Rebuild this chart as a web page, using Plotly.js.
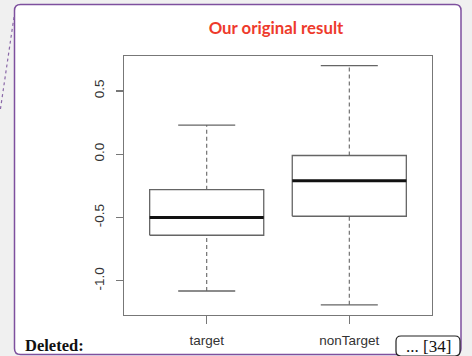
<!DOCTYPE html>
<html>
<head>
<meta charset="utf-8">
<script src="https://cdn.plot.ly/plotly-3.0.1.min.js"></script>
<style>
html,body{margin:0;padding:0;background:#f0f0f0;}
#chart{width:472px;height:356px;}
</style>
</head>
<body>
<div id="chart"></div>
<script>
// Data
const categories = ["target", "nonTarget"];
const upperWhisker = [0.23, 0.70];
const q3Values = [-0.28, -0.01];
const medians = [-0.50, -0.21];
const q1Values = [-0.64, -0.49];
const lowerWhisker = [-1.08, -1.19];

// Layout geometry (pixels)
const W = 472, H = 356;
const L = 124, R = 432, T = 56, B = 315;
const px = x => (x - L) / (R - L);
const py = y => (B - y) / (B - T);

const boxHalf = 0.4, capHalf = 0.2;
const boxColor = "#656565";
const traces = [];
categories.forEach((c, i) => {
  const xc = i + 1;
  // whiskers (dashed)
  traces.push({type:"scatter", mode:"lines", x:[xc, xc], y:[q3Values[i], upperWhisker[i]],
    line:{color:boxColor, width:1.1, dash:"4px,3px"}, hoverinfo:"skip", showlegend:false});
  traces.push({type:"scatter", mode:"lines", x:[xc, xc], y:[lowerWhisker[i], q1Values[i]],
    line:{color:boxColor, width:1.1, dash:"4px,3px"}, hoverinfo:"skip", showlegend:false});
  // caps
  traces.push({type:"scatter", mode:"lines", x:[xc-capHalf, xc+capHalf], y:[upperWhisker[i], upperWhisker[i]],
    line:{color:boxColor, width:1.4}, hoverinfo:"skip", showlegend:false});
  traces.push({type:"scatter", mode:"lines", x:[xc-capHalf, xc+capHalf], y:[lowerWhisker[i], lowerWhisker[i]],
    line:{color:boxColor, width:1.4}, hoverinfo:"skip", showlegend:false});
  // box
  traces.push({type:"scatter", mode:"lines",
    x:[xc-boxHalf, xc+boxHalf, xc+boxHalf, xc-boxHalf, xc-boxHalf],
    y:[q1Values[i], q1Values[i], q3Values[i], q3Values[i], q1Values[i]],
    line:{color:boxColor, width:1.3}, fill:"toself", fillcolor:"#ffffff", hoverinfo:"skip", showlegend:false});
  // median
  traces.push({type:"scatter", mode:"lines", x:[xc-boxHalf, xc+boxHalf], y:[medians[i], medians[i]],
    line:{color:"#111111", width:3}, hoverinfo:"skip", showlegend:false});
});

// rounded rect path in paper coords
function roundRect(x0, y0, x1, y1, r) {
  const rx = r/(R-L), ry = r/(B-T);
  const X0 = px(x0), X1 = px(x1), Y0 = py(y0), Y1 = py(y1); // Y0 top, Y1 bottom
  return `M ${X0+rx},${Y0} L ${X1-rx},${Y0} Q ${X1},${Y0} ${X1},${Y0-ry} ` +
         `L ${X1},${Y1+ry} Q ${X1},${Y1} ${X1-rx},${Y1} L ${X0+rx},${Y1} ` +
         `Q ${X0},${Y1} ${X0},${Y1+ry} L ${X0},${Y0-ry} Q ${X0},${Y0} ${X0+rx},${Y0} Z`;
}

const layout = {
  width: W, height: H,
  margin: {l: L, r: W - R, t: T, b: H - B},
  paper_bgcolor: "#f0f0f0",
  plot_bgcolor: "rgba(0,0,0,0)",
  font: {family: "Liberation Sans, Arial, sans-serif", size: 13.5, color: "#333333"},
  title: {
    text: "<b>Our original result</b>",
    font: {family: "Lato, Open Sans, sans-serif", size: 16.8, color: "#ee3a2c"},
    x: 276 / W, xref: "container", xanchor: "center",
    y: 1 - 28 / H, yref: "container", yanchor: "middle"
  },
  xaxis: {
    range: [0.42, 2.58], tickmode: "array", tickvals: [1, 2], ticktext: categories,
    showgrid: false, zeroline: false, showline: true, mirror: true,
    linecolor: "#777777", linewidth: 1.2, ticks: "outside", ticklen: 8, tickcolor: "#777777",
    tickwidth: 1.2, ticklabelstandoff: 5, fixedrange: true
  },
  yaxis: {
    range: [-1.27, 0.776], tickvals: [-1.0, -0.5, 0.0, 0.5], ticktext: ["-1.0", "-0.5", "0.0", "0.5"],
    tickangle: -90, showgrid: false, zeroline: false, showline: true, mirror: true,
    linecolor: "#777777", linewidth: 1.2, ticks: "outside", ticklen: 7, tickcolor: "#777777",
    tickwidth: 1.2, ticklabelstandoff: 6, fixedrange: true
  },
  shapes: [
    {type: "path", xref: "paper", yref: "paper", path: roundRect(14.5, 4.5, 461, 354.5, 6),
      fillcolor: "#ffffff", line: {color: "#7e509e", width: 1.5}, layer: "below"},
    {type: "line", xref: "paper", yref: "paper", x0: px(14), y0: py(17), x1: px(0), y1: py(112),
      line: {color: "#8a68a8", width: 1.2, dash: "dot"}},
    {type: "path", xref: "paper", yref: "paper", path: roundRect(396, 336, 460, 356, 5),
      fillcolor: "#ffffff", line: {color: "#222222", width: 1.2}}
  ],
  annotations: [
    {xref: "paper", yref: "paper", x: px(23), y: py(345), xanchor: "left", yanchor: "middle",
      text: "<b>Deleted:</b>", showarrow: false,
      font: {family: "Liberation Serif, Times New Roman, serif", size: 16.5, color: "#111111"}},
    {xref: "paper", yref: "paper", x: px(428), y: py(346), xanchor: "center", yanchor: "middle",
      text: "... [34]", showarrow: false,
      font: {family: "Liberation Serif, Times New Roman, serif", size: 17, color: "#111111"}}
  ]
};

Plotly.newPlot("chart", traces, layout, {staticPlot: true, displayModeBar: false});
</script>
</body>
</html>
